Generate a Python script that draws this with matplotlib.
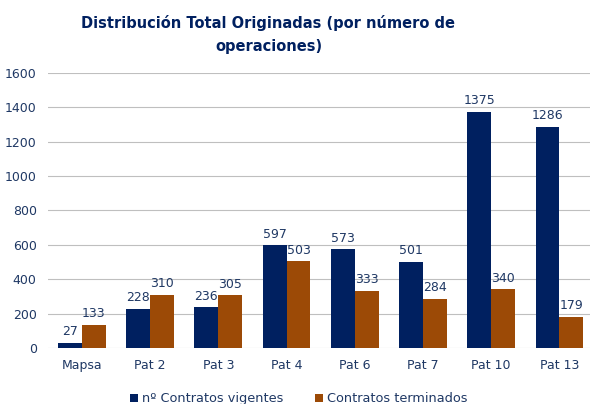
import matplotlib.pyplot as plt
import numpy as np

categories = ['Mapsa', 'Pat 2', 'Pat 3', 'Pat 4', 'Pat 6', 'Pat 7', 'Pat 10', 'Pat 13']
vigentes = [27, 228, 236, 597, 573, 501, 1375, 1286]
terminados = [133, 310, 305, 503, 333, 284, 340, 179]

navy = '#002060'
brown = '#9C4A06'
text_col = '#1F3864'

fig = plt.figure(figsize=(5.9, 4.04), dpi=100)
ax = fig.add_axes([0.081, 0.139, 0.925, 0.68])

x = np.arange(len(categories))
w = 0.35
b1 = ax.bar(x - w / 2, vigentes, w, color=navy, label='nº Contratos vigentes')
b2 = ax.bar(x + w / 2, terminados, w, color=brown, label='Contratos terminados')

for bars in (b1, b2):
    for rect in bars:
        h = rect.get_height()
        ax.text(rect.get_x() + rect.get_width() / 2, h + 28, f'{int(h)}',
                ha='center', va='bottom', fontsize=9, color=text_col)

ax.set_xlim(-0.5, len(categories) - 0.5)
ax.set_ylim(0, 1600)
ax.set_yticks(range(0, 1601, 200))
ax.set_xticks(x)
ax.set_xticklabels(categories)
ax.tick_params(axis='both', length=0, labelsize=9, labelcolor=text_col, pad=8)
ax.grid(axis='y', color='#BFBFBF', linewidth=0.8)
ax.set_axisbelow(True)
for s in ax.spines.values():
    s.set_visible(False)

fig.text(0.455, 0.962, 'Distribución Total Originadas (por número de\noperaciones)',
         ha='center', va='top', fontsize=10.5, fontweight='bold', color=navy,
         linespacing=1.6)

ax.legend(loc='upper center', bbox_to_anchor=(0.46, -0.12), ncol=2, frameon=False,
          fontsize=9.3, labelcolor=text_col, handlelength=0.6, handleheight=0.6,
          columnspacing=2.5, handletextpad=0.3)

fig.savefig('out.png', dpi=100)
